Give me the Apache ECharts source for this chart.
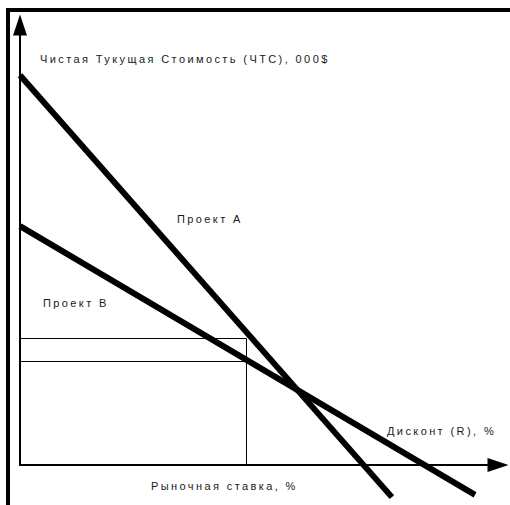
<!DOCTYPE html>
<html>
<head>
<meta charset="utf-8">
<script src="https://cdn.jsdelivr.net/npm/echarts@6/dist/echarts.min.js"></script>
<style>
  html, body { margin: 0; padding: 0; background: #fff; }
  #main { width: 510px; height: 505px; }
  #main svg text { letter-spacing: 2.4px; }
</style>
</head>
<body>
<div id="main"></div>
<script>
// значения на условной шкале 0..100 (ось X — ставка, ось Y — ЧТС)
var projectA = [[0, 88.6], [77.8, -7.3]];
var projectB = [[0, 54.3], [95.2, -6.8]];
var marketRate = 47.38;
var npvA = 28.75;
var npvB = 23.52;

var labelTexts = ['Чистая Тукущая Стоимость (ЧТС), 000$', 'Проект А', 'Проект В', 'Дисконт (R), %', 'Рыночная ставка, %'];
var labelPos = [[40, 60], [177, 220], [43, 304], [387, 432], [151, 487]];

var dom = document.getElementById('main');
var myChart = echarts.init(dom, null, { renderer: 'svg' });

var axisCommon = {
    type: 'value',
    min: 0,
    max: 100,
    axisLine: {
        show: true,
        onZero: false,
        symbol: ['none', 'triangle'],
        symbolSize: [14, 21],
        lineStyle: { color: '#000', width: 2 }
    },
    axisTick: { show: false },
    axisLabel: { show: false },
    splitLine: { show: false }
};

function thickLine(data) {
    return {
        type: 'line',
        data: data,
        symbol: 'none',
        clip: false,
        silent: true,
        lineStyle: { color: '#000', width: 6, cap: 'butt' }
    };
}
function thinLine(data) {
    return {
        type: 'line',
        data: data,
        symbol: 'none',
        clip: false,
        silent: true,
        lineStyle: { color: '#000', width: 1 }
    };
}

var labels = labelTexts.map(function (t, i) {
    return {
        type: 'text',
        left: labelPos[i][0],
        top: labelPos[i][1] - 7,
        style: {
            text: t,
            fill: '#1a1a1a',
            font: '11px "Liberation Sans", Arial, sans-serif'
        }
    };
});

option = {
    backgroundColor: '#fff',
    animation: false,
    grid: { left: 20, right: 12, top: 25, bottom: 40 },
    xAxis: axisCommon,
    yAxis: axisCommon,
    series: [
        thinLine([[0, npvA], [marketRate, npvA], [marketRate, 0]]),
        thinLine([[0, npvB], [marketRate, npvB]]),
        thickLine(projectA),
        thickLine(projectB)
    ],
    graphic: [{
        type: 'polyline',
        shape: { points: [[8, 506], [8, 10], [512, 10]] },
        style: { stroke: '#000', lineWidth: 4, fill: null }
    }].concat(labels)
};
if (option && typeof option === "object") {
    myChart.setOption(option, true);
}
</script>
</body>
</html>
